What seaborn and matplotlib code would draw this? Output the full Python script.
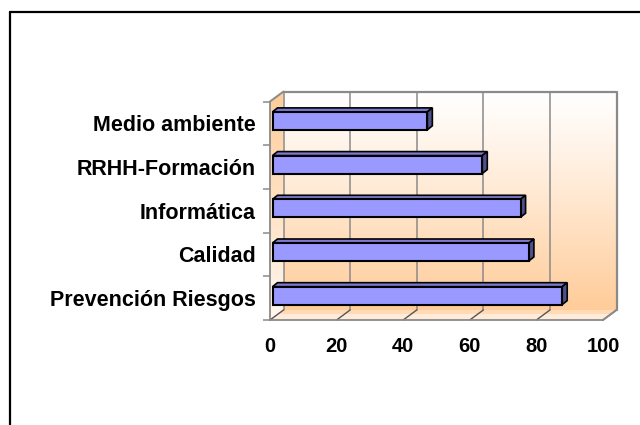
import numpy as np
import pandas as pd
import matplotlib
matplotlib.use("Agg")
import matplotlib.pyplot as plt
import seaborn as sns
from matplotlib.patches import Polygon
from matplotlib.lines import Line2D
from matplotlib.transforms import Affine2D

categories = ["Medio ambiente", "RRHH-Formación", "Informática", "Calidad", "Prevención Riesgos"]
values = [46.5, 63, 74.5, 77, 87]
x_ticks = [0, 20, 40, 60, 80, 100]

sns.set_theme(style="white")
plt.rcParams["font.family"] = ["Liberation Sans", "DejaVu Sans"]

W, H = 640, 425
fig = plt.figure(figsize=(W / 100, H / 100), dpi=100)
fig.patch.set_facecolor("white")

deco = fig.add_axes([0, 0, 1, 1], zorder=0)
deco.set_xlim(0, W)
deco.set_ylim(0, H)
deco.axis("off")

ax = fig.add_axes([270 / W, 1 - 320 / H, 333 / W, 218.5 / H], zorder=1)
ax.patch.set_alpha(0)

df = pd.DataFrame({"categoria": categories, "valor": values})
sns.barplot(data=df, x="valor", y="categoria", order=categories, orient="h",
            color="#9999FF", saturation=1, width=0.41, edgecolor="black",
            linewidth=1.5, ax=ax)
ax.set_xlim(0, 100)
ax.set_ylim(len(categories) - 0.5, -0.5)
ax.set_xlabel("")
ax.set_ylabel("")

GRAY = "#8a8a8a"
DX, DY = 13.5, 10.0       # wall depth (pixels)
BX, BY = 2.5, 2.5         # bar front offset inside depth
TX, TY = 5.0, 4.0         # bar thickness

def px(x, y):
    return ax.transData.transform((x, y))

x0, yb = px(0, len(categories) - 0.5)
x1, yt = px(100, -0.5)

# back wall gradient
grad = np.linspace(0, 1, 256)[:, None]
top_c = np.array([1.0, 1.0, 1.0])
bot_c = np.array([1.0, 0.80, 0.60])
img = top_c + (bot_c - top_c) * grad[..., None] ** 1.1
img = np.repeat(img, 2, axis=1)
deco.imshow(img, extent=[x0 + DX, x1 + DX, yb + DY, yt + DY], aspect="auto",
            origin="upper", zorder=1, interpolation="bilinear")

# side wall gradient (clipped)
side = Polygon([(x0, yb), (x0, yt), (x0 + DX, yt + DY), (x0 + DX, yb + DY)],
               closed=True, facecolor="none", edgecolor="none")
deco.add_patch(side)
img2 = bot_c + (np.array([1.0, 0.97, 0.94]) - bot_c) * grad[..., None]
img2 = np.repeat(img2, 2, axis=1)
im2 = deco.imshow(img2, extent=[x0, x0 + DX, yb, yt + DY], aspect="auto",
                  origin="upper", zorder=1, interpolation="bilinear")
im2.set_clip_path(side)

# floor (peach at the back, lighter toward the front)
floor = Polygon([(x0, yb), (x1, yb), (x1 + DX, yb + DY), (x0 + DX, yb + DY)],
                closed=True, facecolor="#FFDAB5", edgecolor="none", zorder=1)
deco.add_patch(floor)
f = 0.6
floor2 = Polygon([(x0, yb), (x1, yb), (x1 + DX * f, yb + DY * f), (x0 + DX * f, yb + DY * f)],
                 closed=True, facecolor="#FFEBDA", edgecolor="none", zorder=1.2)
deco.add_patch(floor2)

# grid lines on back wall and floor
for v in x_ticks:
    fx, _ = px(v, 0)
    deco.plot([fx + DX, fx + DX], [yb + DY, yt + DY], color=GRAY, lw=1.1, zorder=2)
    deco.plot([fx, fx + DX], [yb, yb + DY], color="#555555", lw=1.0, zorder=2)
# wall outline
deco.plot([x0 + DX, x1 + DX, x1 + DX], [yt + DY, yt + DY, yb + DY], color=GRAY,
          lw=1.6, zorder=2)
deco.plot([x0, x0 + DX], [yt, yt + DY], color=GRAY, lw=1.4, zorder=2)
deco.plot([x1, x1 + DX], [yb, yb + DY], color=GRAY, lw=1.4, zorder=2)

# bars: shift front faces and add top / side faces
for p in ax.patches:
    p.set_transform(ax.transData + Affine2D().translate(BX, BY))
    bx0, by0 = px(p.get_x(), p.get_y() + p.get_height())
    bx1, by1 = px(p.get_x() + p.get_width(), p.get_y())
    bx0 += BX; bx1 += BX; by0 += BY; by1 += BY
    top = Polygon([(bx0, by1), (bx1, by1), (bx1 + TX, by1 + TY), (bx0 + TX, by1 + TY)],
                  closed=True, facecolor="#7A7AD0", edgecolor="black", lw=1.2, zorder=3)
    sidef = Polygon([(bx1, by0), (bx1, by1), (bx1 + TX, by1 + TY), (bx1 + TX, by0 + TY)],
                    closed=True, facecolor="#4F4F8C", edgecolor="black", lw=1.2, zorder=3)
    deco.add_patch(top)
    deco.add_patch(sidef)

# outer frame
deco.add_line(Line2D([10, W], [H - 12, H - 12], color="black", lw=1.6, zorder=5))
deco.add_line(Line2D([10, 10], [0, H - 12], color="black", lw=1.6, zorder=5))

# axes styling
for s in ["top", "right"]:
    ax.spines[s].set_visible(False)
for s in ["left", "bottom"]:
    ax.spines[s].set_color(GRAY)
    ax.spines[s].set_linewidth(1.3)

ax.set_xticks(x_ticks)
ax.set_xticklabels([str(t) for t in x_ticks])
ax.tick_params(axis="x", length=6, width=1.1, color=GRAY, labelsize=14.5, pad=6.5,
               labelcolor="black")
ax.set_yticks(range(len(categories)))
ax.set_yticklabels(categories)
ax.tick_params(axis="y", which="major", length=0, pad=10, labelsize=15.5,
               labelcolor="black")
ax.set_yticks(np.arange(-0.5, len(categories), 1), minor=True)
ax.tick_params(axis="y", which="minor", length=5, width=1.1, color=GRAY,
               direction="out", left=True)
for lab in ax.get_xticklabels() + ax.get_yticklabels():
    lab.set_fontweight("bold")

fig.savefig("out.png", dpi=100)
